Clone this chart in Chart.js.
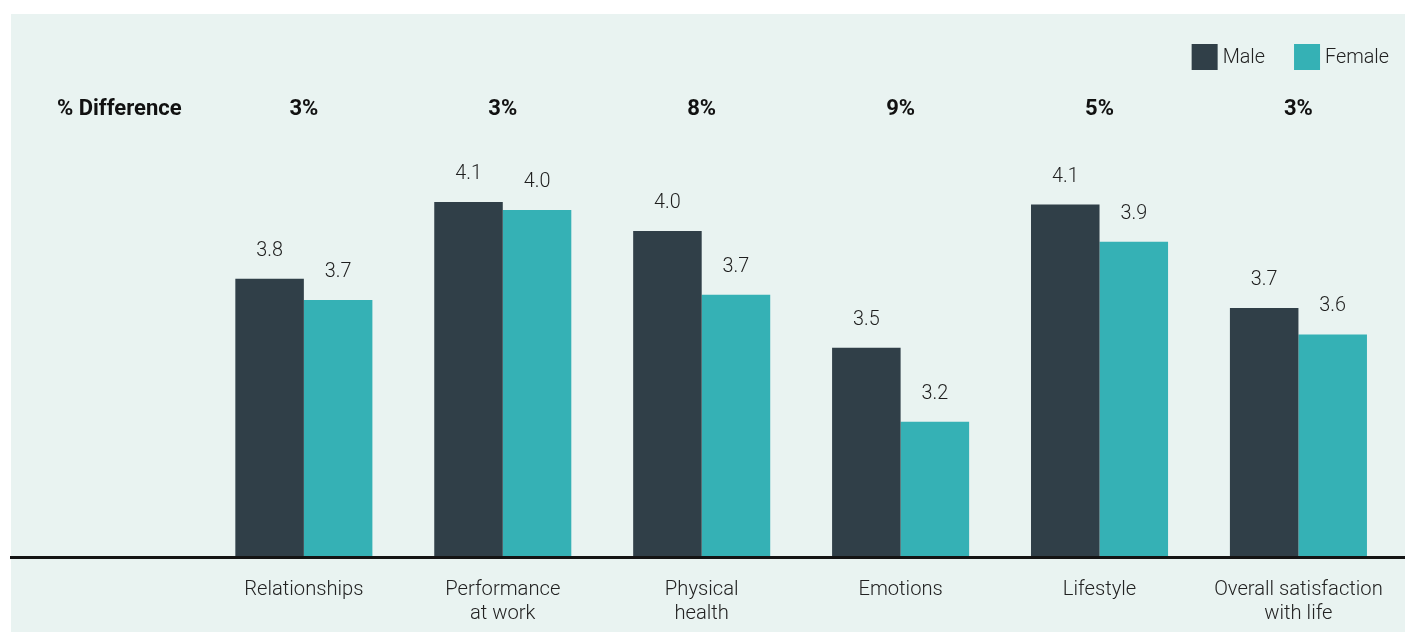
<!DOCTYPE html>
<html>
<head>
<meta charset="utf-8">
<script src="https://cdn.jsdelivr.net/npm/chart.js@4.4.1/dist/chart.umd.min.js"></script>
<style>
  html, body { margin: 0; padding: 0; background: #ffffff; }
  #wrap { width: 1405px; height: 632px; position: relative; }
</style>
</head>
<body>
<div id="wrap"><canvas id="c" width="1405" height="632"></canvas></div>
<script>
// ---- data ----
const categories = [
  "Relationships",
  ["Performance", "at work"],
  ["Physical", "health"],
  "Emotions",
  "Lifestyle",
  ["Overall satisfaction", "with life"]
];
const seriesNames = ["Male", "Female"];
const maleValues   = [3.78, 4.07, 3.96, 3.52, 4.06, 3.67];
const femaleValues = [3.70, 4.04, 3.72, 3.24, 3.92, 3.57];
const pctDifference = ["3%", "3%", "8%", "9%", "5%", "3%"];
const diffTitle = "% Difference";

// ---- style ----
const MALE_COLOR = "#303f48";
const FEMALE_COLOR = "#35b1b5";
const BG_COLOR = "#e9f3f1";
const FONT = "Roboto";

const bgPlugin = {
  id: "bg",
  beforeDraw(chart) {
    const ctx = chart.ctx;
    ctx.save();
    ctx.fillStyle = BG_COLOR;
    ctx.fillRect(11, 14, chart.width - 11, chart.height - 14);
    ctx.restore();
  }
};

const decoPlugin = {
  id: "deco",
  afterDatasetsDraw(chart) {
    const ctx = chart.ctx;
    const xs = chart.scales.x;
    const ys = chart.scales.y;
    ctx.save();
    // baseline axis
    const y0 = Math.round(ys.getPixelForValue(ys.min)) + 0.5;
    ctx.strokeStyle = "#141414";
    ctx.lineWidth = 3;
    ctx.beginPath();
    ctx.moveTo(10, y0);
    ctx.lineTo(chart.width, y0);
    ctx.stroke();

    // value labels
    ctx.font = "300 19.8px " + FONT;
    ctx.fillStyle = "#1e1e1e";
    ctx.textAlign = "center";
    ctx.textBaseline = "middle";
    chart.data.datasets.forEach((ds, di) => {
      const meta = chart.getDatasetMeta(di);
      meta.data.forEach((bar, i) => {
        ctx.fillText(ds.data[i].toFixed(1), bar.x, bar.y - 28);
      });
    });

    // % difference row
    ctx.font = "bold 22px " + FONT;
    ctx.fillStyle = "#111111";
    ctx.textAlign = "left";
    ctx.fillText(diffTitle, 57, 109);
    ctx.textAlign = "center";
    pctDifference.forEach((t, i) => {
      ctx.fillText(t, xs.getPixelForValue(i), 109);
    });

    // legend (drawn right-aligned)
    ctx.font = "300 19.8px " + FONT;
    ctx.textAlign = "left";
    const box = 26, gapText = 5, gapItem = 29, legendRight = 1389, ly = 57;
    const items = chart.data.datasets.map(ds => ({ label: ds.label, color: ds.backgroundColor, w: ctx.measureText(ds.label).width }));
    let total = 0;
    items.forEach((it, k) => { total += box + gapText + it.w + (k ? gapItem : 0); });
    let x = legendRight - total;
    items.forEach((it) => {
      ctx.fillStyle = it.color;
      ctx.fillRect(x, ly - box / 2, box, box);
      ctx.fillStyle = "#222222";
      ctx.fillText(it.label, x + box + gapText, ly + 1);
      x += box + gapText + it.w + gapItem;
    });
    ctx.restore();
  }
};

new Chart(document.getElementById("c"), {
  type: "bar",
  data: {
    labels: categories,
    datasets: [
      { label: seriesNames[0], data: maleValues, backgroundColor: MALE_COLOR, borderWidth: 0 },
      { label: seriesNames[1], data: femaleValues, backgroundColor: FEMALE_COLOR, borderWidth: 0 }
    ]
  },
  options: {
    responsive: false,
    animation: false,
    devicePixelRatio: 1,
    layout: { padding: { left: 204.4, right: 7.1, top: 141, bottom: 0 } },
    datasets: { bar: { categoryPercentage: 0.689, barPercentage: 1.0 } },
    plugins: {
      legend: { display: false },
      tooltip: { enabled: false }
    },
    scales: {
      x: {
        grid: { display: false, drawTicks: false },
        border: { display: false },
        afterFit(scale) { scale.height = 75; },
        ticks: {
          font: { family: FONT, size: 20.2, weight: "300", lineHeight: "24px" },
          color: "#222222",
          padding: 21,
          maxRotation: 0,
          autoSkip: false
        }
      },
      y: {
        display: false,
        min: 2.73,
        max: 4.30
      }
    }
  },
  plugins: [bgPlugin, decoPlugin]
});
</script>
</body>
</html>
